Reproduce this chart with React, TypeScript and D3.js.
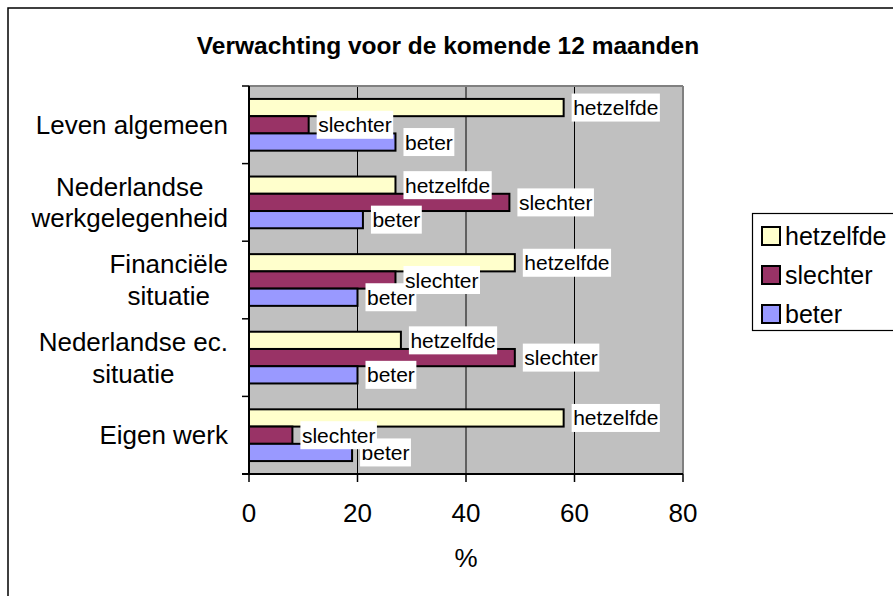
import React from "react";
import * as d3 from "d3";

const categories = ["Leven algemeen", "Nederlandse werkgelegenheid", "Financiële situatie", "Nederlandse ec. situatie", "Eigen werk"];
const categoryLines = [["Leven algemeen"], ["Nederlandse", "werkgelegenheid"], ["Financiële", "situatie"], ["Nederlandse ec.", "situatie"], ["Eigen werk"]];
const seriesNames = ["hetzelfde", "slechter", "beter"];
const hetzelfde = [58, 27, 49, 28, 58];
const slechter = [11, 48, 27, 49, 8];
const beter = [27, 21, 20, 20, 19];
const xTicks = [0, 20, 40, 60, 80];
const seriesColors = ["#ffffcc", "#993366", "#9999ff"];

const FONT = "'Liberation Sans', Arial, Helvetica, sans-serif";

let ctx: CanvasRenderingContext2D | null = null;
function measure(text: string, size: number, weight = "normal") {
  if (!ctx) {
    const c = document.createElement("canvas");
    ctx = c.getContext("2d");
  }
  if (!ctx) return text.length * size * 0.5;
  ctx.font = `${weight} ${size}px 'Liberation Sans', Arial, sans-serif`;
  return ctx.measureText(text).width;
}

export default function App() {
  const W = 893, H = 596;
  const x = d3.scaleLinear().domain([0, 80]).range([249, 683]);
  const y = d3.scaleBand<string>().domain(categories).range([86, 474]).padding(0);
  const inner = d3.scaleBand<string>().domain(seriesNames).range([0, y.bandwidth()]).paddingInner(0).paddingOuter(0.75);
  const values = [hetzelfde, slechter, beter];

  const labelSize = 21;
  const axisSize = 26;
  const legendSize = 25;

  // draw order for labels: beter, slechter, hetzelfde
  const labelOrder = [2, 1, 0];

  return (
    <svg width={W} height={H} style={{ position: "absolute", left: 0, top: 0, display: "block" }} fontFamily={FONT}>
      <rect x={0} y={0} width={W} height={H} fill="#ffffff" />
      <rect x={8} y={8} width={1000} height={1000} fill="#ffffff" stroke="#000" strokeWidth={1.5} />
      <text x={448} y={54} textAnchor="middle" fontSize={24.5} fontWeight="bold" fill="#000">
        Verwachting voor de komende 12 maanden
      </text>

      {/* plot area */}
      <rect x={x(0)} y={86} width={x(80) - x(0)} height={474 - 86} fill="#c0c0c0" />
      {xTicks.slice(1, -1).map((t) => (
        <line key={"g" + t} x1={x(t)} x2={x(t)} y1={86} y2={474} stroke="#000" strokeWidth={1} />
      ))}
      <line x1={x(0)} x2={x(80)} y1={86} y2={86} stroke="#808080" strokeWidth={2} />
      <line x1={x(80)} x2={x(80)} y1={86} y2={474} stroke="#808080" strokeWidth={2} />

      {/* bars */}
      {categories.map((c, ci) =>
        seriesNames.map((s, si) => {
          const v = values[si][ci];
          const by = (y(c) as number) + (inner(s) as number);
          return (
            <rect key={c + s} x={x(0)} y={by} width={x(v) - x(0)} height={inner.bandwidth()}
              fill={seriesColors[si]} stroke="#000" strokeWidth={2} />
          );
        })
      )}

      {/* axes */}
      <line x1={x(0)} x2={x(0)} y1={86} y2={475} stroke="#000" strokeWidth={2} />
      <line x1={x(0) - 7} x2={x(80)} y1={474} y2={474} stroke="#000" strokeWidth={2} />
      {categories.map((c) => (
        <line key={"yt" + c} x1={x(0) - 7} x2={x(0)} y1={y(c) as number} y2={y(c) as number} stroke="#000" strokeWidth={1.5} />
      ))}
      {xTicks.map((t) => (
        <g key={"xt" + t}>
          <line x1={x(t)} x2={x(t)} y1={474} y2={482} stroke="#000" strokeWidth={1.5} />
          <text x={x(t)} y={522} textAnchor="middle" fontSize={axisSize} fill="#000">{t}</text>
        </g>
      ))}
      <text x={466} y={567} textAnchor="middle" fontSize={axisSize} fill="#000">%</text>

      {/* category labels */}
      {categories.map((c, ci) => {
        const lines = categoryLines[ci];
        const maxW = Math.max(...lines.map((l) => measure(l, axisSize)));
        const cx = 228 - maxW / 2;
        const center = (y(c) as number) + y.bandwidth() / 2;
        const lh = 31.7;
        const start = center - ((lines.length - 1) * lh) / 2;
        return (
          <text key={"cl" + c} textAnchor="middle" fontSize={axisSize} fill="#000">
            {lines.map((l, li) => (
              <tspan key={li} x={cx} y={start + li * lh + 9.2}>{l}</tspan>
            ))}
          </text>
        );
      })}

      {/* data labels */}
      {categories.map((c, ci) =>
        labelOrder.map((si) => {
          const s = seriesNames[si];
          const v = values[si][ci];
          const cy = (y(c) as number) + (inner(s) as number) + inner.bandwidth() / 2;
          const tw = measure(s, labelSize);
          const bx = x(v) + 8;
          return (
            <g key={"dl" + c + s}>
              <rect x={bx} y={cy - 14} width={tw + 3} height={28} fill="#ffffff" />
              <text x={bx + 1.5} y={cy + 7.5} fontSize={labelSize} fill="#000">{s}</text>
            </g>
          );
        })
      )}

      {/* legend */}
      <rect x={752.5} y={213.5} width={200} height={117} fill="#ffffff" stroke="#000" strokeWidth={1.2} />
      {seriesNames.map((s, si) => {
        const cy = 236 + si * 39;
        return (
          <g key={"lg" + s}>
            <rect x={762} y={cy - 9} width={18} height={18} fill={seriesColors[si]} stroke="#000" strokeWidth={2} />
            <text x={785} y={cy + 9} fontSize={legendSize} fill="#000">{s}</text>
          </g>
        );
      })}
    </svg>
  );
}
